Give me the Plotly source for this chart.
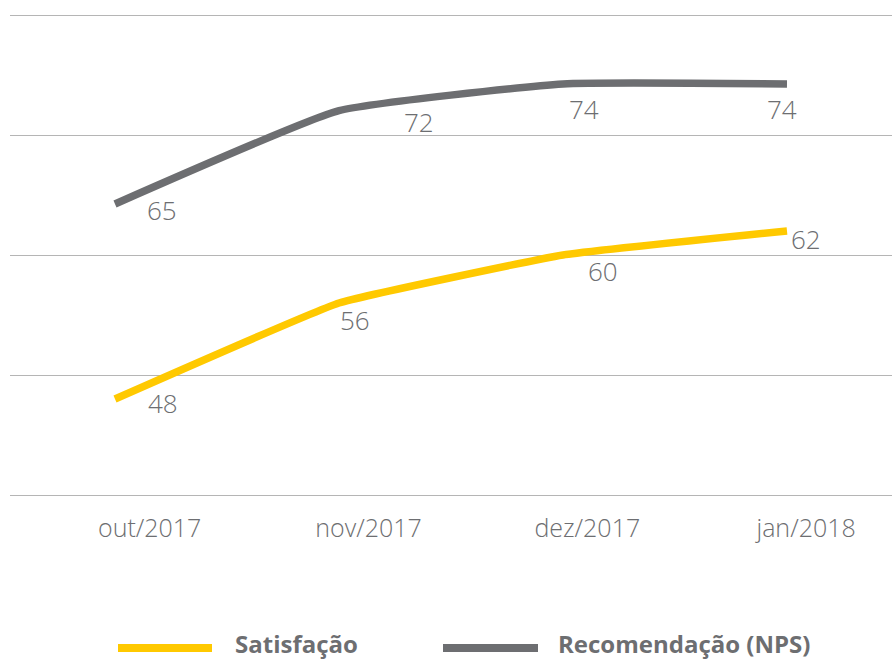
import plotly.graph_objects as go

# ---- data -------------------------------------------------------------
months = ["out/2017", "nov/2017", "dez/2017", "jan/2018"]
satisfacao = [48, 56, 60, 62]
nps = [65, 72, 74, 74]
grid_values = [40, 50, 60, 70, 80]

# value-label offsets from each point, in pixels (right, down)
sat_label_dx = [48, 16, 40, 19]
sat_label_dy = [4, 17, 16, 8]
nps_label_dx = [47, 80, 21, -5]
nps_label_dy = [6, 11, 25, 25]

# ---- styles -----------------------------------------------------------
YELLOW = "#FFC900"
GREY = "#6D6E71"
TEXT = "#6D6E71"
GRID = "#B5B5B5"
FONT = "Open Sans"

W, H = 892, 660
M_L, M_R, M_T, M_B = 10, 0, 5, 155
PLOT_W = W - M_L - M_R
PLOT_H = H - M_T - M_B


def px_to_paper_x(px):
    return (px - M_L) / PLOT_W


def px_to_paper_y(py):
    return (H - M_B - py) / PLOT_H


idx = list(range(len(months)))

fig = go.Figure()

fig.add_trace(go.Scatter(
    x=idx, y=satisfacao, xaxis="x", yaxis="y",
    mode="lines", name="Satisfação",
    line=dict(color=YELLOW, width=7.5, shape="spline", smoothing=0.3),
    hoverinfo="skip",
))
fig.add_trace(go.Scatter(
    x=idx, y=nps, xaxis="x", yaxis="y2",
    mode="lines", name="Recomendação (NPS)",
    line=dict(color=GREY, width=7.5, shape="spline", smoothing=0.4),
    hoverinfo="skip",
))
# empty helper trace so the month axis gets its own subplot
fig.add_trace(go.Scatter(
    x=idx, y=[None] * len(idx), xaxis="x2", yaxis="y",
    mode="none", showlegend=False, hoverinfo="skip",
))

# value labels next to each point
annotations = []
for i, v in enumerate(satisfacao):
    annotations.append(dict(
        x=i, y=v, xref="x", yref="y", text=str(v), showarrow=False,
        xshift=sat_label_dx[i], yshift=-sat_label_dy[i],
        xanchor="center", yanchor="middle",
        font=dict(family=FONT, size=26, color=TEXT, weight=300),
    ))
for i, v in enumerate(nps):
    annotations.append(dict(
        x=i, y=v, xref="x", yref="y2", text=str(v), showarrow=False,
        xshift=nps_label_dx[i], yshift=-nps_label_dy[i],
        xanchor="center", yanchor="middle",
        font=dict(family=FONT, size=26, color=TEXT, weight=300),
    ))

# legend drawn below the plot: thick line swatch + bold label
legend_items = [
    ("Satisfação", YELLOW, 118, 212, 233),
    ("Recomendação (NPS)", GREY, 443, 538, 556),
]
legend_y = 648
shapes = []
for label, color, x0, x1, tx in legend_items:
    shapes.append(dict(
        type="line", xref="paper", yref="paper",
        x0=px_to_paper_x(x0), x1=px_to_paper_x(x1),
        y0=px_to_paper_y(legend_y), y1=px_to_paper_y(legend_y),
        line=dict(color=color, width=8),
    ))
    annotations.append(dict(
        x=px_to_paper_x(tx), y=px_to_paper_y(legend_y - 5),
        xref="paper", yref="paper", text=label, showarrow=False,
        xanchor="left", yanchor="middle",
        font=dict(family=FONT, size=24, color=TEXT, weight="bold"),
    ))

fig.update_layout(
    width=W, height=H,
    margin=dict(l=M_L, r=M_R, t=M_T, b=M_B),
    paper_bgcolor="white", plot_bgcolor="white",
    showlegend=False,
    xaxis=dict(
        range=[-0.46875, 3.46875], visible=False,
    ),
    xaxis2=dict(
        overlaying="x", anchor="y", side="bottom",
        range=[-0.6385, 3.3926],
        tickmode="array", tickvals=idx, ticktext=months,
        showgrid=False, zeroline=False, showline=False, ticks="",
        tickfont=dict(family=FONT, size=25, color=TEXT, weight=300),
        ticklabelstandoff=6,
    ),
    yaxis=dict(
        range=[39.1667, 80.8333],
        tickvals=grid_values, showticklabels=False,
        showgrid=True, gridcolor=GRID, gridwidth=1.3,
        zeroline=False, showline=False, ticks="",
    ),
    yaxis2=dict(
        overlaying="y", anchor="x",
        range=[42.425, 79.925], visible=False,
    ),
    annotations=annotations,
    shapes=shapes,
)

fig.write_html("out.html")
